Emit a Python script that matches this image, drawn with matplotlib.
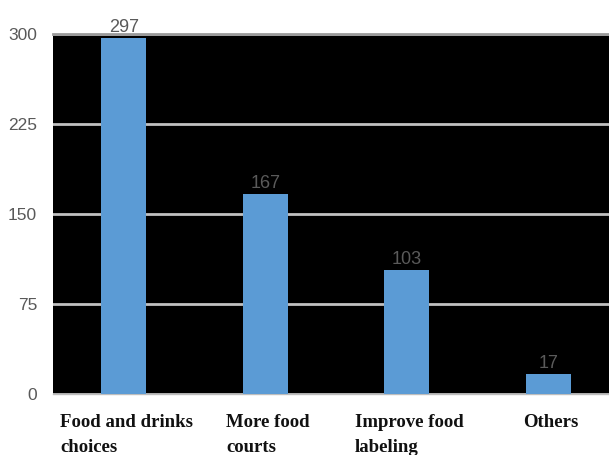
import matplotlib
matplotlib.use('Agg')
from matplotlib import pyplot as plt

categories = ['Food and drinks\nchoices', 'More food\ncourts', 'Improve food\nlabeling', 'Others']
counts = [297, 167, 103, 17]
y_ticks = [0, 75, 150, 225, 300]


def main():
    fig = plt.figure(figsize=(6.09, 4.55), dpi=100)
    ax = fig.add_axes([53 / 609, 61 / 455, 556 / 609, 360 / 455])
    ax.set_facecolor('black')

    x = list(range(len(counts)))
    bars = ax.bar(x, counts, width=0.32, color='#5B9BD5', zorder=3)

    for b, v in zip(bars, counts):
        ax.annotate(str(v), xy=(b.get_x() + b.get_width() / 2, v), xytext=(0, 1.5),
                    textcoords='offset points', ha='center', va='bottom',
                    fontsize=13, color='#5a5a5a', family='Liberation Sans', zorder=4)

    ax.set_ylim(0, 300)
    ax.set_xlim(-0.5, 3.43)
    ax.set_yticks(y_ticks)
    ax.set_yticklabels([str(t) for t in y_ticks], fontsize=12.5, color='#595959',
                       family='Liberation Sans')
    ax.tick_params(axis='y', length=0, pad=11.5)
    ax.yaxis.grid(True, color='#c0c0c0', linewidth=2, zorder=1)
    ax.set_axisbelow(True)

    ax.set_xticks(x)
    ax.set_xticklabels([])
    ax.tick_params(axis='x', length=0)
    for xi, lab in zip(x, categories):
        ax.text(xi + 0.02, -0.055, lab, transform=ax.get_xaxis_transform(), ha='center', va='top',
                multialignment='left', fontsize=13.5, fontweight='bold',
                family='Liberation Serif', linespacing=1.6, color='#111111')

    for side in ['left', 'right']:
        ax.spines[side].set_visible(False)
    ax.spines['top'].set_color('#9a9a9a')
    ax.spines['top'].set_linewidth(2)
    ax.spines['bottom'].set_color('#bdbdbd')
    ax.spines['bottom'].set_linewidth(1)

    fig.savefig('out.png', dpi=100)


if __name__ == '__main__':
    main()
